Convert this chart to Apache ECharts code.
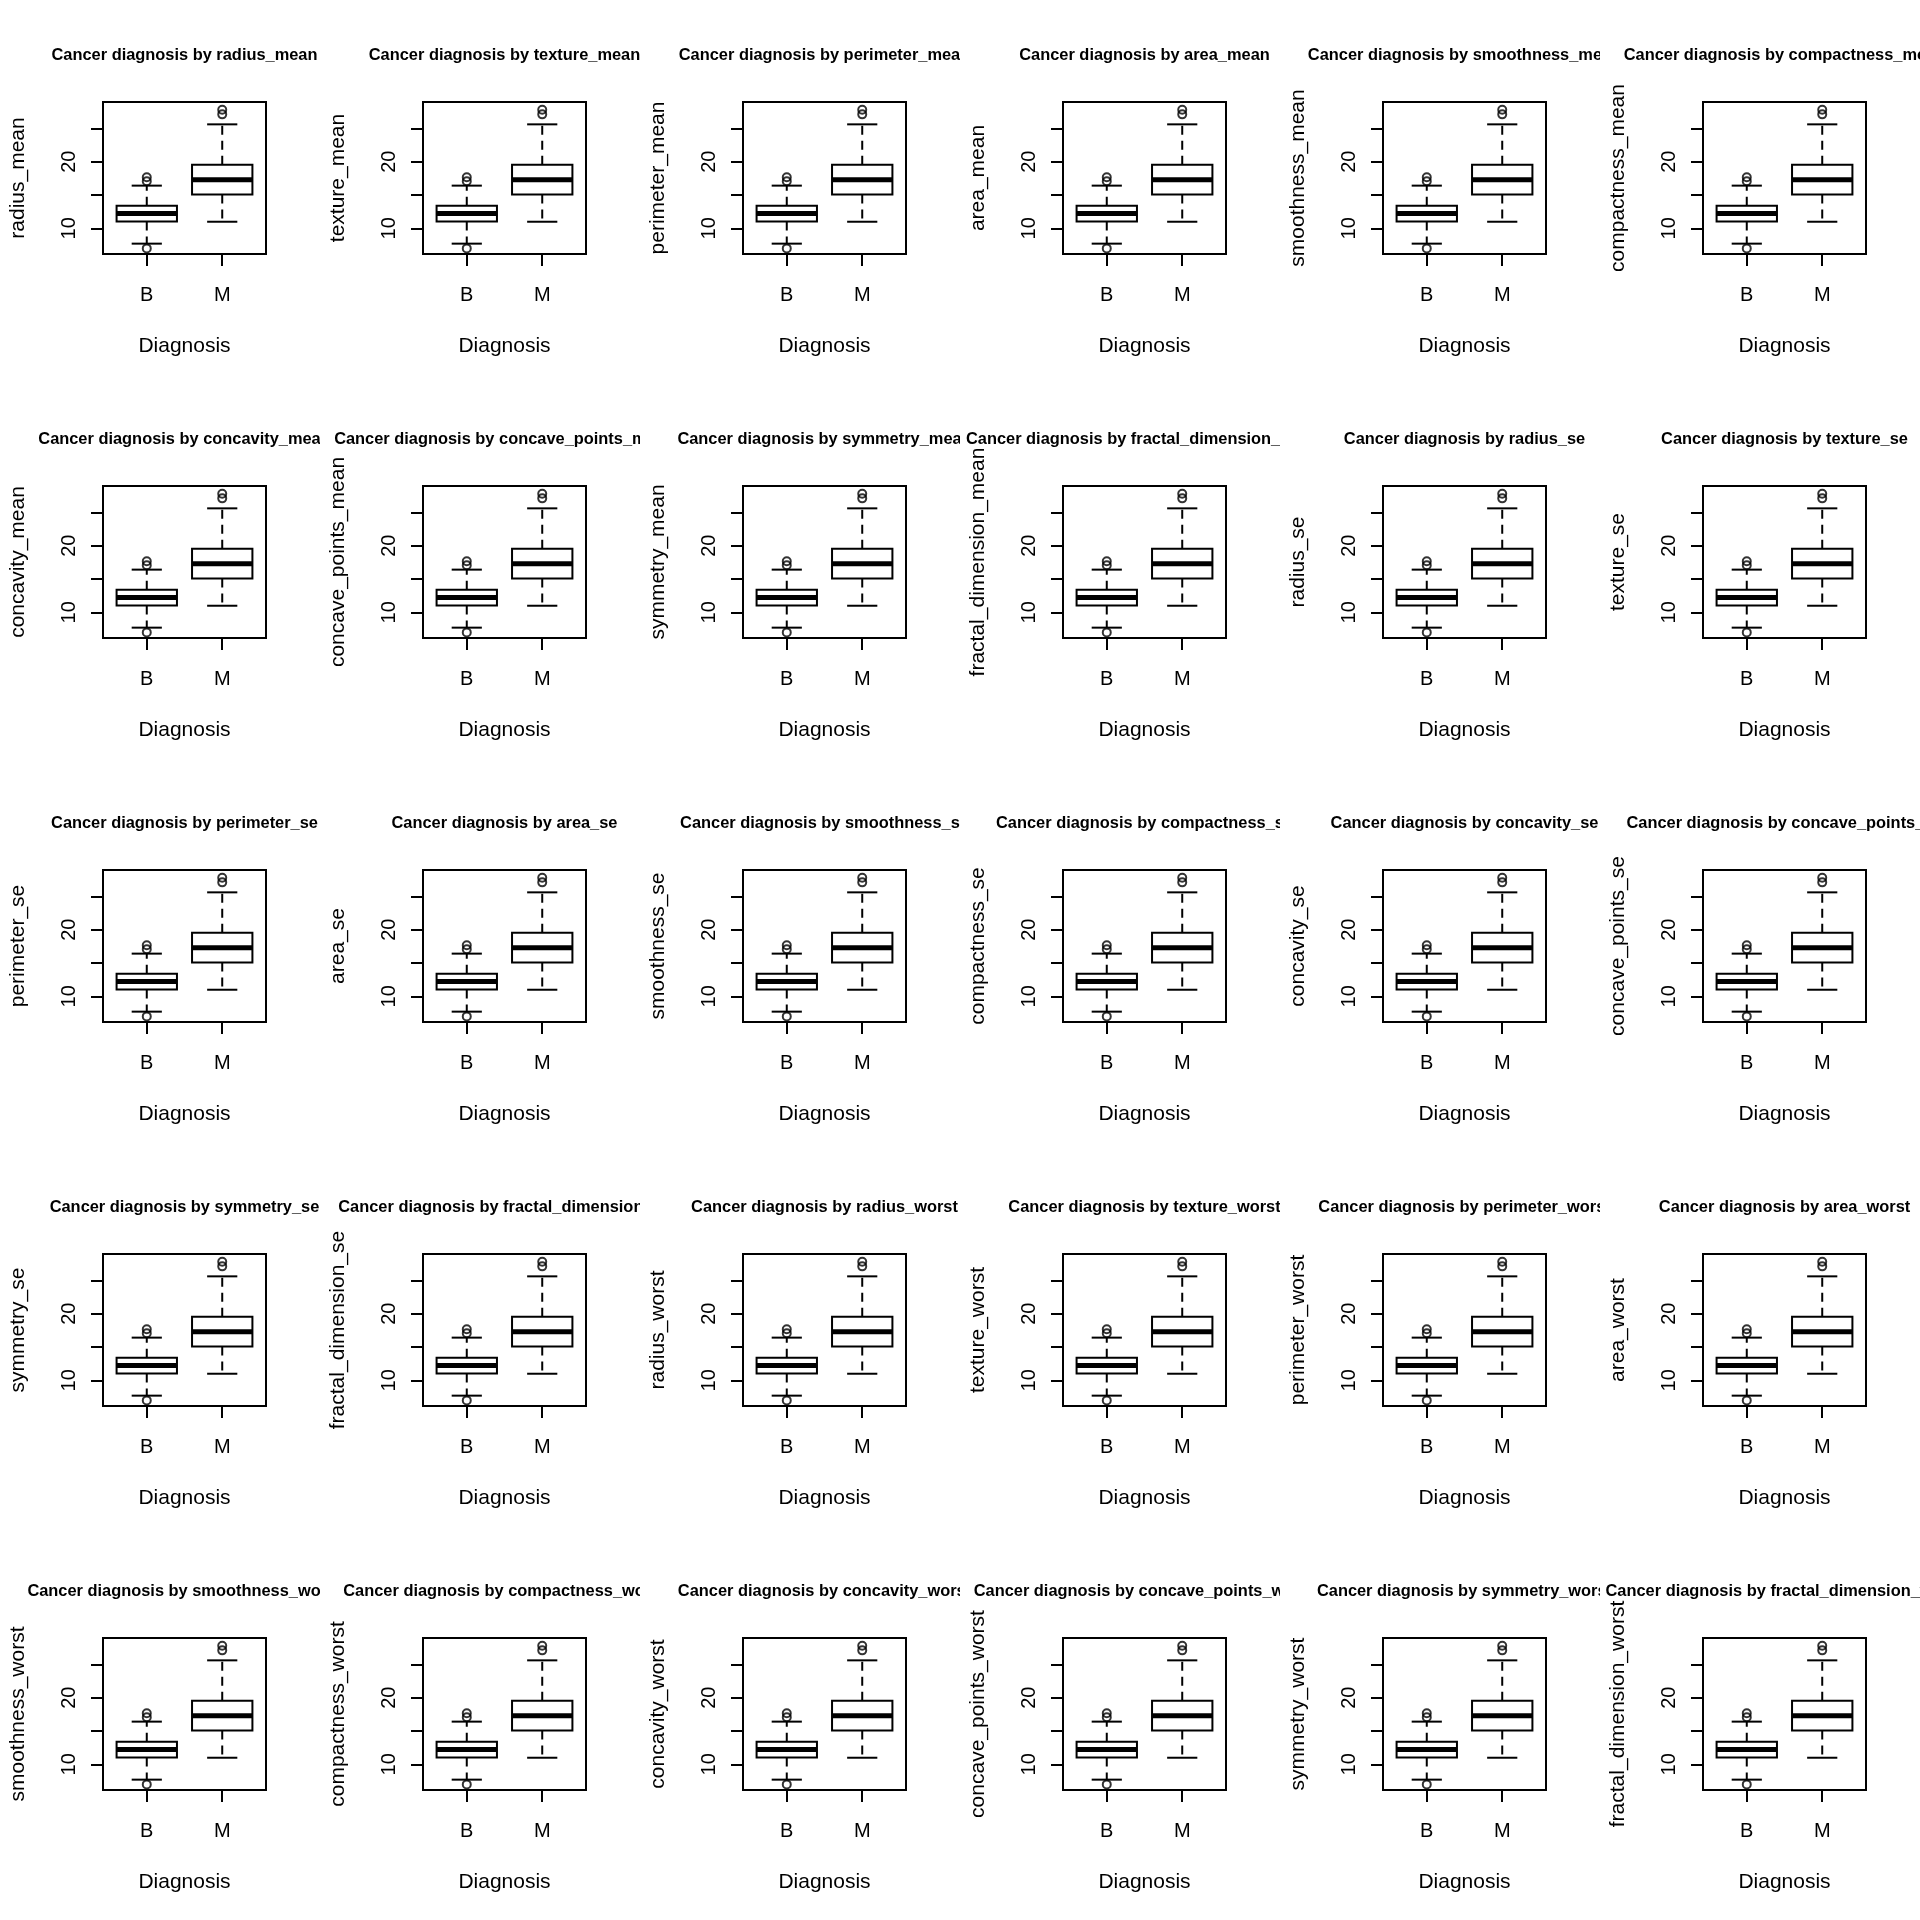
<!DOCTYPE html>
<html>
<head>
<meta charset="utf-8">
<script src="https://cdn.jsdelivr.net/npm/echarts@6/dist/echarts.min.js"></script>
<style>
  html, body { margin: 0; padding: 0; background: #fff; }
  #wrap { position: relative; width: 1920px; height: 1920px; background: #fff; }
  .panel { position: absolute; width: 320px; height: 384px; overflow: hidden; }
</style>
</head>
<body>
<div id="wrap"></div>
<script>
// ---- data ----
const features = [
  'radius_mean', 'texture_mean', 'perimeter_mean', 'area_mean', 'smoothness_mean', 'compactness_mean',
  'concavity_mean', 'concave_points_mean', 'symmetry_mean', 'fractal_dimension_mean', 'radius_se', 'texture_se',
  'perimeter_se', 'area_se', 'smoothness_se', 'compactness_se', 'concavity_se', 'concave_points_se',
  'symmetry_se', 'fractal_dimension_se', 'radius_worst', 'texture_worst', 'perimeter_worst', 'area_worst',
  'smoothness_worst', 'compactness_worst', 'concavity_worst', 'concave_points_worst', 'symmetry_worst', 'fractal_dimension_worst'
];
const groups = ['B', 'M'];
const lowerWhisker = [7.69, 10.98];
const q1 = [11.0, 15.05];
const median = [12.2, 17.3];
const q3 = [13.37, 19.55];
const upperWhisker = [16.4, 25.6];
const outliersB = [6.98, 17.05, 17.65];
const outliersM = [27.1, 27.8];
const yTickValues = [10, 15, 20, 25];
const yLabelValues = [10, 20];
const xLabel = 'Diagnosis';
const titlePrefix = 'Cancer diagnosis by ';

// ---- drawing ----
const FONT = '"Liberation Sans", Arial, Helvetica, sans-serif';
const wrap = document.getElementById('wrap');
const NCOL = 6, PW = 320, PH = 384;

const boxData = groups.map((g, i) => [i + 1, lowerWhisker[i], q1[i], median[i], q3[i], upperWhisker[i]]);
const outlierData = [];
outliersB.forEach(v => outlierData.push([1, v]));
outliersM.forEach(v => outlierData.push([2, v]));

function renderBox(params, api) {
  const x = api.value(0);
  const pLw = api.coord([x, api.value(1)]);
  const pQ1 = api.coord([x, api.value(2)]);
  const pMed = api.coord([x, api.value(3)]);
  const pQ3 = api.coord([x, api.value(4)]);
  const pUw = api.coord([x, api.value(5)]);
  const half = api.size([0.8, 0])[0] / 2;
  const capHalf = api.size([0.4, 0])[0] / 2;
  const cx = pMed[0];
  const solid = { stroke: '#000', lineWidth: 2, fill: null };
  const dashed = { stroke: '#000', lineWidth: 2, lineDash: [9, 6], fill: null };
  return {
    type: 'group',
    children: [
      { type: 'line', shape: { x1: cx, y1: pQ3[1], x2: cx, y2: pUw[1] }, style: dashed },
      { type: 'line', shape: { x1: cx, y1: pQ1[1], x2: cx, y2: pLw[1] }, style: dashed },
      { type: 'line', shape: { x1: cx - capHalf, y1: pUw[1], x2: cx + capHalf, y2: pUw[1] }, style: solid },
      { type: 'line', shape: { x1: cx - capHalf, y1: pLw[1], x2: cx + capHalf, y2: pLw[1] }, style: solid },
      { type: 'rect', shape: { x: cx - half, y: pQ3[1], width: half * 2, height: pQ1[1] - pQ3[1] },
        style: { stroke: '#000', lineWidth: 2, fill: '#fff' } },
      { type: 'line', shape: { x1: cx - half, y1: pMed[1], x2: cx + half, y2: pMed[1] },
        style: { stroke: '#000', lineWidth: 5 } }
    ]
  };
}

features.forEach((feat, idx) => {
  const row = Math.floor(idx / NCOL), col = idx % NCOL;
  const div = document.createElement('div');
  div.className = 'panel';
  div.style.left = (col * PW) + 'px';
  div.style.top = (row * PH) + 'px';
  wrap.appendChild(div);
  const chart = echarts.init(div, null, { renderer: 'canvas', width: PW, height: PH });
  const tickStyle = { color: '#000', width: 2 };
  chart.setOption({
    animation: false,
    backgroundColor: '#fff',
    textStyle: { fontFamily: FONT },
    graphic: [{
      type: 'text', x: 184.5, y: 55,
      style: {
        text: titlePrefix + feat, fill: '#000',
        font: 'bold 16.4px ' + FONT,
        fontSize: 16.4, fontWeight: 'bold', fontFamily: FONT,
        align: 'center', verticalAlign: 'middle',
        textAlign: 'center', textVerticalAlign: 'middle'
      }
    }],
    grid: {
      left: 103, top: 102, width: 163, height: 152,
      show: true, borderColor: '#000', borderWidth: 2, backgroundColor: 'transparent'
    },
    xAxis: {
      type: 'value', min: 0.42, max: 2.58,
      splitLine: { show: false },
      axisLine: { show: false },
      axisTick: { show: true, inside: false, length: 12, lineStyle: tickStyle, customValues: [1, 2] },
      axisLabel: {
        show: true, customValues: [1, 2], margin: 31,
        formatter: v => groups[Math.round(v) - 1] || '',
        color: '#000', fontSize: 20, fontFamily: FONT
      },
      name: xLabel, nameLocation: 'middle', nameGap: 82,
      nameTextStyle: { color: '#000', fontSize: 21, fontFamily: FONT }
    },
    yAxis: {
      type: 'value', min: 6.136, max: 28.955,
      splitLine: { show: false },
      axisLine: { show: false },
      axisTick: { show: true, inside: false, length: 12, lineStyle: tickStyle, customValues: yTickValues },
      axisLabel: {
        show: true, customValues: yLabelValues, rotate: 90, margin: 24,
        color: '#000', fontSize: 20, fontFamily: FONT
      },
      name: feat, nameLocation: 'middle', nameGap: 74, nameRotate: 90,
      nameTextStyle: { color: '#000', fontSize: 21, fontFamily: FONT }
    },
    series: [
      {
        type: 'custom', renderItem: renderBox, data: boxData, clip: false,
        encode: { x: 0, y: [1, 2, 3, 4, 5] }
      },
      {
        type: 'scatter', data: outlierData, symbol: 'circle', symbolSize: 8,
        itemStyle: { color: 'rgba(0,0,0,0)', borderColor: '#000', borderWidth: 2 },
        z: 5
      }
    ]
  });
});
</script>
</body>
</html>
